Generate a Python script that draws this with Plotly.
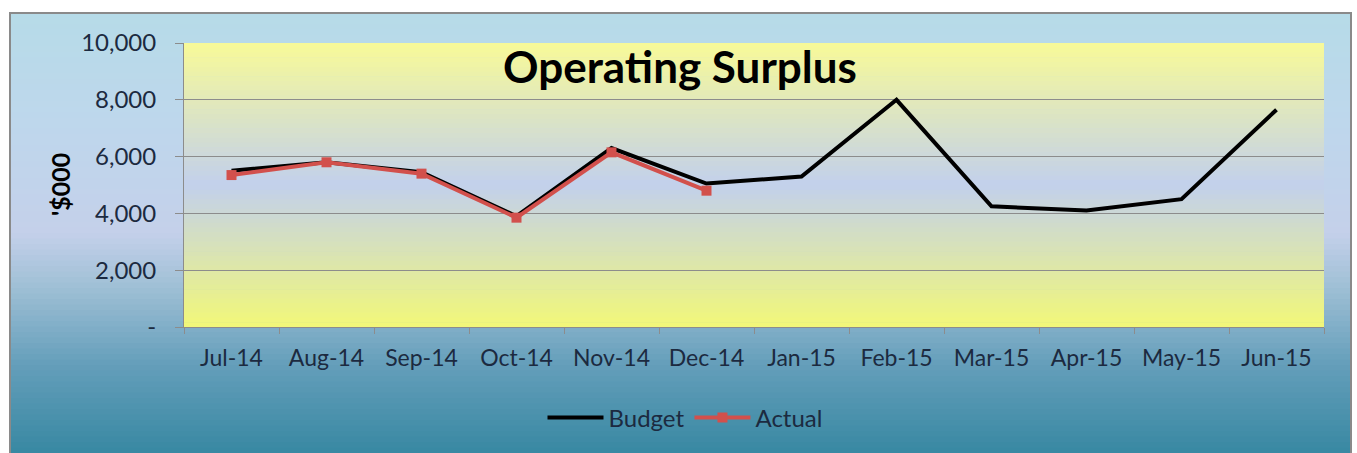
import plotly.graph_objects as go

months = ["Jul-14", "Aug-14", "Sep-14", "Oct-14", "Nov-14", "Dec-14",
          "Jan-15", "Feb-15", "Mar-15", "Apr-15", "May-15", "Jun-15"]
budget = [5500, 5800, 5450, 3900, 6300, 5050, 5300, 8000, 4250, 4100, 4500, 7650]
actual = [5350, 5800, 5400, 3850, 6150, 4800]
ytick_vals = [0, 2000, 4000, 6000, 8000, 10000]
ytick_text = ["-", "2,000", "4,000", "6,000", "8,000", "10,000"]

W, H = 1357, 453
L, R, T, B = 184, 33, 43, 126
PW = W - L - R
PH = H - T - B


def px_to_paper_x(px):
    return (px - L) / PW


def px_to_paper_y(py):
    return (H - B - py) / PH


def lerp(c1, c2, t):
    return tuple(round(a + (b - a) * t) for a, b in zip(c1, c2))


def grad_color(stops, t):
    for i in range(len(stops) - 1):
        t0, c0 = stops[i]
        t1, c1 = stops[i + 1]
        if t0 <= t <= t1:
            return lerp(c0, c1, (t - t0) / (t1 - t0) if t1 > t0 else 0)
    return stops[-1][1]


shapes = []
# outer gradient (top to bottom)
outer_stops = [(0.0, (182, 219, 232)), (0.25, (190, 215, 236)), (0.5, (196, 208, 234)),
               (0.62, (160, 192, 214)), (0.8, (100, 158, 186)), (1.0, (56, 136, 162))]
ox0, ox1, oy0, oy1 = 10, 1351, 13, 453
n = 80
for i in range(n):
    t = (i + 0.5) / n
    ya = oy0 + (oy1 - oy0) * i / n
    yb = oy0 + (oy1 - oy0) * (i + 1) / n + 0.6
    c = grad_color(outer_stops, t)
    shapes.append(dict(type="rect", xref="paper", yref="paper", layer="below",
                       x0=px_to_paper_x(ox0), x1=px_to_paper_x(ox1),
                       y0=px_to_paper_y(yb), y1=px_to_paper_y(ya),
                       line=dict(width=0), fillcolor="rgb(%d,%d,%d)" % c))
shapes.append(dict(type="rect", xref="paper", yref="paper", layer="below",
                   x0=px_to_paper_x(ox0), x1=px_to_paper_x(ox1),
                   y0=px_to_paper_y(oy1 + 3), y1=px_to_paper_y(oy0),
                   line=dict(width=2, color="#8a8a8a"), fillcolor="rgba(0,0,0,0)"))

# plot-area gradient
plot_stops = [(0.0, (248, 250, 152)), (0.5, (194, 208, 236)), (1.0, (242, 248, 120))]
m = 60
for i in range(m):
    t = (i + 0.5) / m
    c = grad_color(plot_stops, t)
    shapes.append(dict(type="rect", xref="paper", yref="paper", layer="below",
                       x0=0, x1=1, y0=1 - (i + 1) / m - 0.002, y1=1 - i / m,
                       line=dict(width=0), fillcolor="rgb(%d,%d,%d)" % c))

fig = go.Figure()
fig.add_trace(go.Scatter(x=months, y=budget, name="Budget", mode="lines",
                         line=dict(color="black", width=4)))
fig.add_trace(go.Scatter(x=months[:len(actual)], y=actual, name="Actual", mode="lines+markers",
                         line=dict(color="#d2504c", width=4),
                         marker=dict(symbol="square", size=10, color="#d2504c")))

font_family = "Lato, 'Open Sans', sans-serif"
tick_color = "#1c2a40"

fig.update_layout(
    width=W, height=H,
    margin=dict(l=L, r=R, t=T, b=B),
    paper_bgcolor="white",
    plot_bgcolor="rgba(0,0,0,0)",
    shapes=shapes,
    showlegend=True,
    legend=dict(orientation="h", x=px_to_paper_x(685), xanchor="center",
                y=px_to_paper_y(418), yanchor="middle",
                font=dict(family=font_family, size=24, color=tick_color),
                bgcolor="rgba(0,0,0,0)", itemwidth=56, traceorder="normal"),
    font=dict(family=font_family, color=tick_color),
    annotations=[dict(text="<b>Operating Surplus</b>", xref="paper", yref="paper",
                      x=px_to_paper_x(680), y=px_to_paper_y(66), xanchor="center",
                      yanchor="middle", showarrow=False,
                      font=dict(family=font_family, size=44, color="black")),
                 dict(text="<b>'$000</b>", xref="paper", yref="paper",
                      x=px_to_paper_x(60), y=px_to_paper_y(185), xanchor="center",
                      yanchor="middle", showarrow=False, textangle=-90,
                      font=dict(family=font_family, size=25, color="black"))],
)
fig.update_xaxes(type="category", range=[-0.5, 11.5], showgrid=False,
                 showline=True, linecolor="#8c8c8c", linewidth=1,
                 ticks="outside", ticklen=6, tickcolor="#8c8c8c", tickson="boundaries",
                 ticklabelstandoff=10,
                 tickfont=dict(family=font_family, size=23, color=tick_color),
                 fixedrange=True)
fig.update_yaxes(range=[0, 10000], tickvals=ytick_vals, ticktext=ytick_text,
                 showgrid=True, gridcolor="#8c8c8c", gridwidth=1,
                 showline=True, linecolor="#8c8c8c", linewidth=1,
                 ticks="outside", ticklen=8, tickcolor="#8c8c8c",
                 ticklabelstandoff=14,
                 tickfont=dict(family=font_family, size=24, color=tick_color),
                 zeroline=False, fixedrange=True)

fig.write_html("out.html")
